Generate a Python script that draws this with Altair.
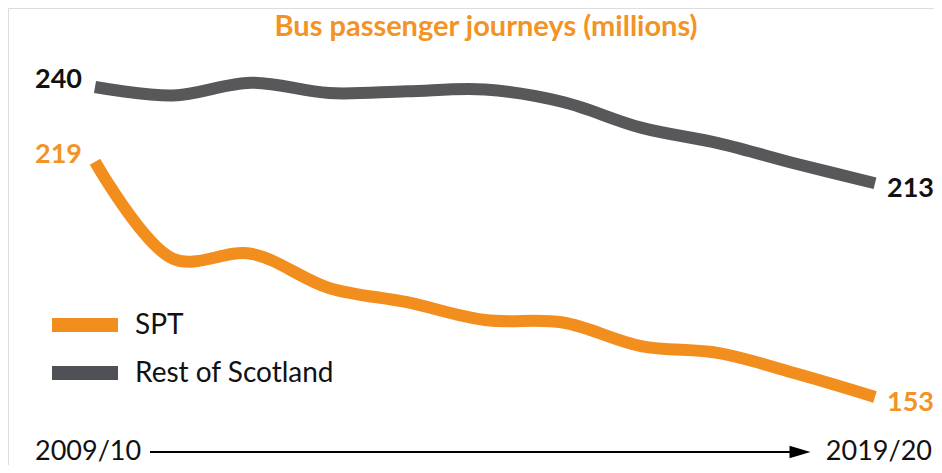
import altair as alt
import pandas as pd

title_text = "Bus passenger journeys (millions)"
years = ["2009/10", "2010/11", "2011/12", "2012/13", "2013/14", "2014/15",
         "2015/16", "2016/17", "2017/18", "2018/19", "2019/20"]
series_names = ["SPT", "Rest of Scotland"]
spt = [219, 191.8, 193.2, 183.6, 179.6, 174.6, 173.9, 167.3, 165.3, 159.5, 153]
rest = [240, 237.6, 241.2, 238.3, 238.8, 239.3, 235.8, 228.6, 224.2, 218.4, 213]

ORANGE = "#F28E1E"
ORANGE_TXT = "#F39325"
GREY = "#58585A"
GREY_LEG = "#4E5156"
BLACK = "#111111"
FONT = "Lato"

rows = []
for i, y in enumerate(years):
    rows.append({"idx": i, "year": y, "series": series_names[0], "value": spt[i]})
    rows.append({"idx": i, "year": y, "series": series_names[1], "value": rest[i]})
df = pd.DataFrame(rows)

n = len(years) - 1
xs = alt.Scale(domain=[0, n], range=[87, 867])
ys = alt.Scale(domain=[153, 240], range=[389, 79])
cs = alt.Scale(domain=series_names, range=[ORANGE, GREY])

X = alt.X("idx:Q", scale=xs, axis=None)
Y = alt.Y("value:Q", scale=ys, axis=None)

lines = alt.Chart(df).mark_line(strokeWidth=12, interpolate="catmull-rom").encode(
    x=X, y=Y,
    color=alt.Color("series:N", scale=cs, legend=None),
    detail="series:N",
)

label_colors = {series_names[0]: ORANGE_TXT, series_names[1]: BLACK}
label_layers = []
for name in series_names:
    sdf = df[df["series"] == name]
    first = sdf[sdf["idx"] == 0]
    last = sdf[sdf["idx"] == n]
    label_layers.append(alt.Chart(first).mark_text(
        align="right", baseline="alphabetic", dx=-13, dy=1, fontSize=27, font=FONT,
        fontWeight="bold", color=label_colors[name]
    ).encode(x=X, y=Y, text=alt.Text("value:Q", format="d")))
    label_layers.append(alt.Chart(last).mark_text(
        align="left", baseline="alphabetic", dx=12, dy=14, fontSize=27, font=FONT,
        fontWeight="bold", color=label_colors[name]
    ).encode(x=X, y=Y, text=alt.Text("value:Q", format="d")))

# title
title = alt.Chart(pd.DataFrame({"t": [title_text]})).mark_text(
    align="center", baseline="alphabetic", fontSize=29, font=FONT, fontWeight="bold", color=ORANGE_TXT
).encode(x=alt.value(478), y=alt.value(28), text="t:N")

# manual legend
leg_layers = []
leg_colors = [ORANGE, GREY_LEG]
for i, name in enumerate(series_names):
    ldf = pd.DataFrame({"name": [name]})
    yy = 317 + 48 * i
    leg_layers.append(
        alt.Chart(ldf).mark_rule(strokeWidth=14, color=leg_colors[i]).encode(
            x=alt.value(44), x2=alt.value(110), y=alt.value(yy))
    )
    leg_layers.append(
        alt.Chart(ldf).mark_text(align="left", baseline="middle", fontSize=28, font=FONT, color=BLACK).encode(
            x=alt.value(127), y=alt.value(yy + 1), text="name:N")
    )

# bottom year labels with arrow
ydf_first = pd.DataFrame({"idx": [0], "year": [years[0]]})
ydf_last = pd.DataFrame({"idx": [n], "year": [years[-1]]})
year_first = alt.Chart(ydf_first).mark_text(
    align="left", baseline="alphabetic", dx=-60, fontSize=27, font=FONT, color=BLACK
).encode(x=X, y=alt.value(452), text="year:N")
year_last = alt.Chart(ydf_last).mark_text(
    align="right", baseline="alphabetic", dx=57, fontSize=27, font=FONT, color=BLACK
).encode(x=X, y=alt.value(452), text="year:N")

arrow_line = alt.Chart(ydf_first).mark_rule(strokeWidth=2, color="#000000").encode(
    x=alt.value(142), x2=alt.value(790), y=alt.value(444))
arrow_head = alt.Chart(ydf_first).mark_point(
    shape="M-1,-0.6L1,0L-1,0.6Z", filled=True, color="#000000", opacity=1, size=441, strokeWidth=0
).encode(x=alt.value(792), y=alt.value(444))

chart = alt.layer(
    lines, *label_layers, title, *leg_layers, year_first, year_last, arrow_line, arrow_head
).properties(
    width=926, height=457, autosize=alt.AutoSizeParams(type="none"), padding=0
).configure_view(stroke=None).configure(background="white")

chart.save("out.html", embed_options={"renderer": "svg", "actions": False})
